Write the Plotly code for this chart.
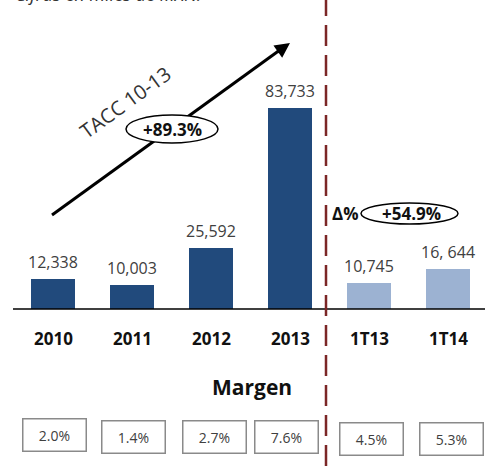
import plotly.graph_objects as go

categories = ["2010", "2011", "2012", "2013", "1T13", "1T14"]
values = [12338, 10003, 25592, 83733, 10745, 16644]
value_labels = ["12,338", "10,003", "25,592", "83,733", "10,745", "16, 644"]
margins = ["2.0%", "1.4%", "2.7%", "7.6%", "4.5%", "5.3%"]
bar_colors = ["#214A7C", "#214A7C", "#214A7C", "#214A7C", "#9CB2D2", "#9CB2D2"]
tacc_label = "+89.3%"
delta_label = "+54.9%"

FONT = "Open Sans"
xs = list(range(len(categories)))

fig = go.Figure()
fig.add_trace(go.Bar(x=xs, y=values, marker=dict(color=bar_colors, line=dict(width=0)),
                     width=0.545, hoverinfo="skip"))

S = 0.0024005  # px per unit
def vy(py):
    return (309 - py) / S
def vx(px):
    return (px - 53) / 79.0

ann = []
for i, (v, t) in enumerate(zip(values, value_labels)):
    ann.append(dict(x=i, y=v, text=t, showarrow=False, yanchor="bottom", yshift=4,
                    font=dict(family=FONT, size=16, color="#404040")))
for i, c in enumerate(categories):
    ann.append(dict(x=i, y=vy(338), text="<b>" + c + "</b>", showarrow=False,
                    font=dict(family=FONT, size=17, color="#111111")))
box_x = [54, 133, 214, 286, 371, 451]
box_y = [435, 437, 437, 437, 439, 439]
for bx, by, m in zip(box_x, box_y, margins):
    ann.append(dict(x=vx(bx), y=vy(by), text=m, showarrow=False, width=58, height=27,
                    borderpad=2, bordercolor="#8a8a8a", borderwidth=1.5, bgcolor="white",
                    font=dict(family=FONT, size=14, color="#404040")))
ann.append(dict(x=vx(252), y=vy(387), text="<b>Margen</b>", showarrow=False,
                font=dict(family=FONT, size=21, color="#111111")))
ann.append(dict(x=vx(290), y=vy(43), ax=vx(276), ay=vy(53), axref="x", ayref="y",
                xref="x", yref="y", text="", showarrow=True, arrowhead=2, arrowsize=1,
                arrowwidth=3, arrowcolor="black"))
ann.append(dict(x=vx(125), y=vy(102), text="TACC 10-13", showarrow=False, textangle=-36,
                font=dict(family=FONT, size=20, color="#333333")))
ann.append(dict(x=vx(172), y=vy(129), text="<b>" + tacc_label + "</b>", showarrow=False,
                font=dict(family=FONT, size=17, color="#111111")))
ann.append(dict(x=vx(345), y=vy(213), text="<b>Δ%</b>", showarrow=False,
                font=dict(family=FONT, size=17, color="#111111")))
ann.append(dict(x=vx(411), y=vy(213), text="<b>" + delta_label + "</b>", showarrow=False,
                font=dict(family=FONT, size=17, color="#111111")))
ann.append(dict(xref="paper", yref="paper", x=13/485, y=1, xanchor="left", yanchor="bottom",
                yshift=-8, text="<i>Cifras en miles de MXN.</i>", showarrow=False,
                font=dict(family=FONT, size=18, color="#333333")))

shapes = [
    dict(type="line", xref="paper", yref="y", x0=13/485, x1=1, y0=0, y1=0,
         line=dict(color="black", width=1.5)),
    dict(type="line", xref="x", yref="paper", x0=vx(326), x1=vx(326), y0=0, y1=1,
         line=dict(color="#7B2626", width=2.5, dash="21px,9px")),
    dict(type="line", xref="x", yref="y", x0=vx(52), y0=vy(215), x1=vx(284), y1=vy(47),
         line=dict(color="black", width=3), layer="above"),
    dict(type="circle", xref="x", yref="y", x0=vx(126), x1=vx(218), y0=vy(143), y1=vy(115),
         line=dict(color="black", width=1.5), fillcolor="white", layer="above"),
    dict(type="circle", xref="x", yref="y", x0=vx(361), x1=vx(458), y0=vy(224), y1=vy(203),
         line=dict(color="black", width=1.5), fillcolor="white", layer="above"),
]

fig.update_layout(
    width=485, height=466, margin=dict(l=0, r=0, t=0, b=0),
    paper_bgcolor="white", plot_bgcolor="white", showlegend=False,
    xaxis=dict(range=[vx(0), vx(485)], visible=False, fixedrange=True),
    yaxis=dict(range=[vy(466), vy(0)], visible=False, fixedrange=True),
    annotations=ann, shapes=shapes, bargap=0,
)
fig.write_html("out.html", config={"displayModeBar": False},
               post_script="document.body.style.margin='0';document.body.style.overflow='hidden';")
